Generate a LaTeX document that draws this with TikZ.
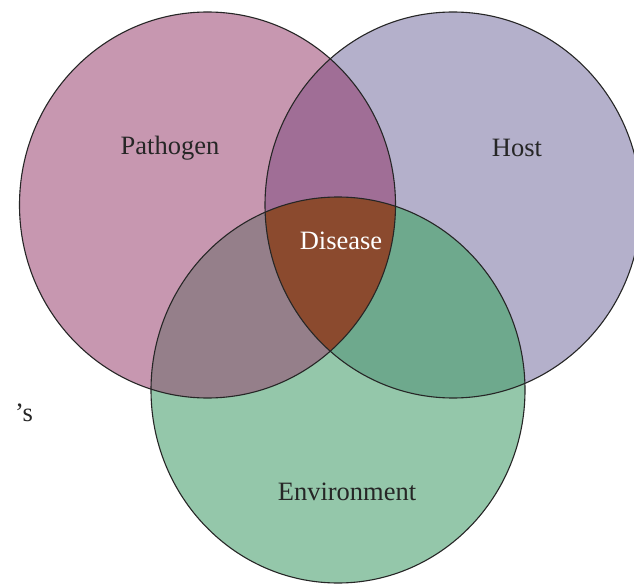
\documentclass[tikz,border=0pt]{standalone}
\usepackage{fontspec}
\setmainfont{Liberation Serif}
\definecolor{pathc}{RGB}{199,151,176}
\definecolor{hostc}{RGB}{180,176,203}
\definecolor{envc}{RGB}{148,199,170}
\definecolor{phc}{RGB}{160,110,150}
\definecolor{pec}{RGB}{149,127,138}
\definecolor{hec}{RGB}{110,169,141}
\definecolor{disc}{RGB}{139,74,46}
\tikzset{
  outline/.style={draw=black!85, line width=1.1pt},
  lbl/.style={font=\fontsize{26.5}{30}\selectfont, text=black!85, inner sep=0pt},
}
\begin{document}
\begin{tikzpicture}[x=1pt,y=-1pt]
\useasboundingbox[fill=white] (0,0) rectangle (634,585);
\def\Pth{(207.5,205) ellipse [x radius=188, y radius=193]}
\def\Hst{(453,205) ellipse [x radius=188, y radius=193]}
\def\Env{(338,390) ellipse [x radius=187, y radius=193]}
% base fills
\fill[pathc] \Pth;
\fill[hostc] \Hst;
\fill[envc] \Env;
% pairwise overlaps
\begin{scope}\clip \Pth; \fill[phc] \Hst; \end{scope}
\begin{scope}\clip \Pth; \fill[pec] \Env; \end{scope}
\begin{scope}\clip \Hst; \fill[hec] \Env; \end{scope}
% triple overlap
\begin{scope}\clip \Pth; \clip \Hst; \fill[disc] \Env; \end{scope}
% outlines
\draw[outline] \Pth;
\draw[outline] \Hst;
\draw[outline] \Env;
% labels
\node[lbl] (pathogen) at (170,148) {Pathogen};
\node[lbl] (host) at (517,148) {Host};
\node[lbl, text=white] (disease) at (341,241) {Disease};
\node[lbl] (environment) at (347,492) {Environment};
\node[lbl, anchor=west] (frag) at (15,413) {’s};
\end{tikzpicture}
\end{document}
